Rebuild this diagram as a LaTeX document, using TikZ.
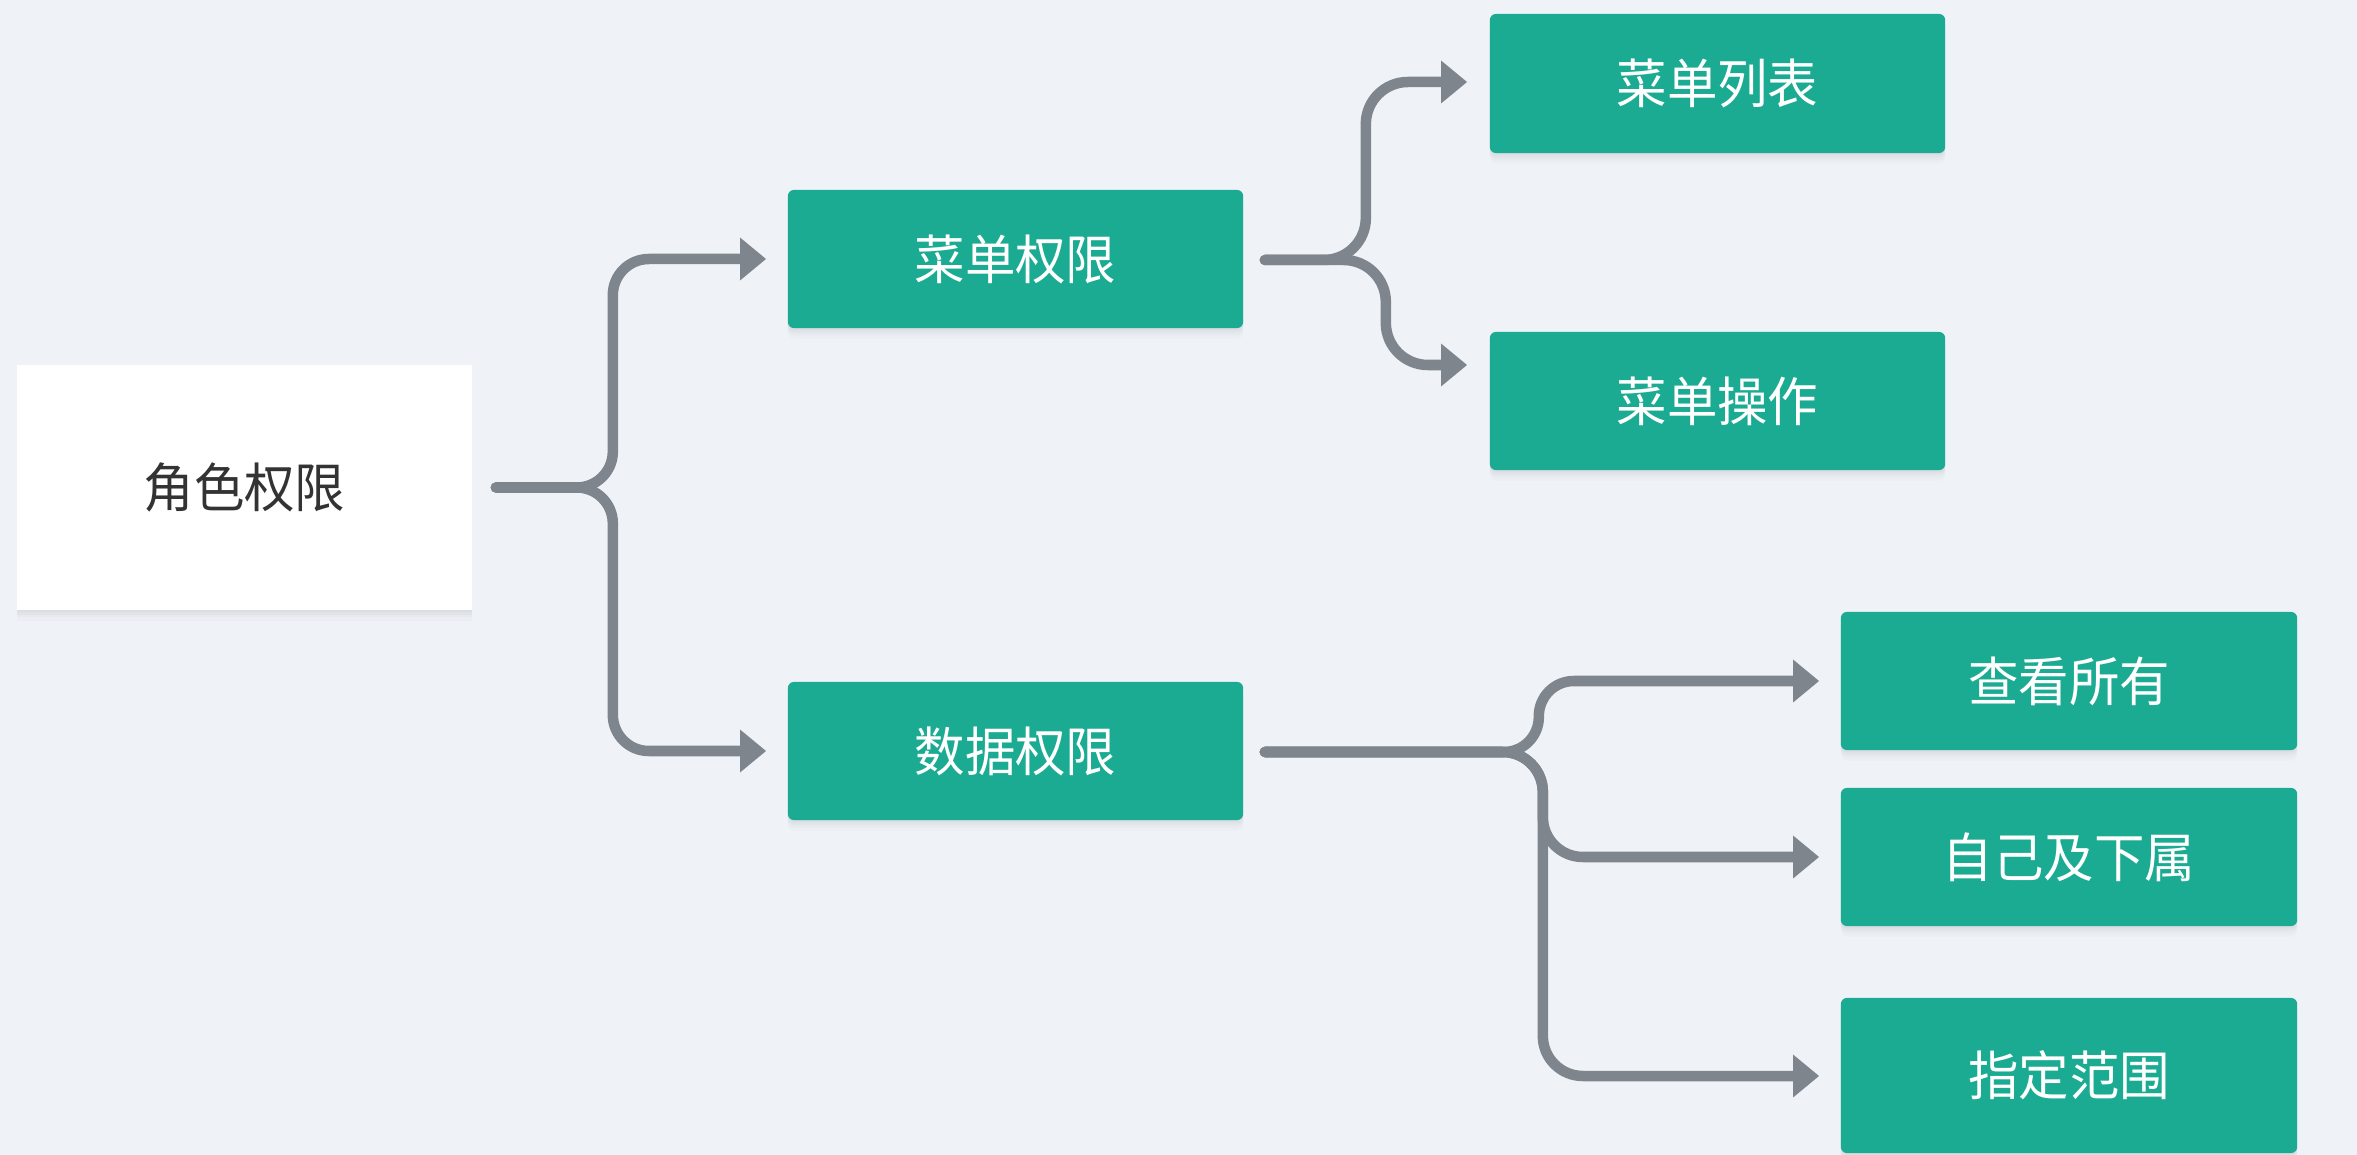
\documentclass[tikz,border=0pt]{standalone}
\usepackage{fontspec}
\newfontfamily\cjk[FakeStretch=0.95]{Noto Sans CJK SC}
\usetikzlibrary{arrows.meta,calc}
\definecolor{bgc}{HTML}{EFF3F7}
\definecolor{greenc}{HTML}{1AAB92}
\definecolor{linec}{HTML}{7E858D}
\definecolor{darktext}{HTML}{333333}
\tikzset{
  softshadow/.style={
    preaction={fill=black, opacity=0.025, transform canvas={yshift=-0.6pt}},
    preaction={fill=black, opacity=0.025, transform canvas={yshift=-1.3pt}},
    preaction={fill=black, opacity=0.02, transform canvas={yshift=-2.1pt}},
    preaction={fill=black, opacity=0.015, transform canvas={yshift=-3pt}}},
  leafbox/.style={softshadow, fill=greenc, draw=none, rounded corners=0.06cm, inner sep=0pt,
    minimum width=4.55cm, minimum height=1.38cm, text=white,
    font=\cjk\fontsize{15.1pt}{16pt}\selectfont},
  rootbox/.style={softshadow, fill=white, draw=none, inner sep=0pt,
    minimum width=4.55cm, minimum height=2.45cm, text=darktext,
    font=\cjk\fontsize{15.1pt}{16pt}\selectfont},
  conn/.style={draw=linec, line width=0.105cm, line cap=round, rounded corners=0.36cm,
    -{Triangle[width=0.41cm,length=0.26cm]}}
}
\begin{document}
\begin{tikzpicture}[x=0.01cm,y=-0.01cm]
\useasboundingbox (0,0) rectangle (2357,1155);
\fill[bgc] (0,0) rectangle (2357,1155);

\node[rootbox] (root) at (244.5,487.5) {角色权限};
\node[leafbox] (mp) at (1015.5,259) {菜单权限};
\node[leafbox] (dp) at (1015.5,751) {数据权限};
\node[leafbox, minimum height=1.39cm] (ml) at (1717.5,83.5) {菜单列表};
\node[leafbox] (mo) at (1717.5,401) {菜单操作};
\node[leafbox, minimum width=4.56cm] (va) at (2069,681) {查看所有};
\node[leafbox, minimum width=4.56cm] (sb) at (2069,857) {自己及下属};
\node[leafbox, minimum width=4.56cm, minimum height=1.55cm] (sr) at (2069,1075.5) {指定范围};

% root branches
\draw[conn] ($(root.east)+(23,0)$) -- ++(117,0) |- ($(mp.west)+(-21,0)$);
\draw[conn] ($(root.east)+(23,0)$) -- ++(117,0) |- ($(dp.west)+(-21,0)$);

% menu permission branches
\draw[conn, rounded corners=0.42cm] ($(mp.east)+(21,1)$) -- ++(101,0) |- ($(ml.west)+(-22,-1.5)$);
\draw[conn, rounded corners=0.42cm] ($(mp.east)+(21,1)$) -- ++(121,0) |- ($(mo.west)+(-22,-36)$);

% data permission branches
\draw[conn, rounded corners=0.35cm] ($(dp.east)+(21,1)$) -- ++(274,0) |- ($(va.west)+(-21,0)$);
\draw[conn, rounded corners=0.4cm] ($(dp.east)+(21,1)$) -- ++(278,0) |- ($(sb.west)+(-21,0)$);
\draw[conn, rounded corners=0.4cm] ($(dp.east)+(21,1)$) -- ++(278,0) |- ($(sr.west)+(-21,0.5)$);
\end{tikzpicture}
\end{document}
